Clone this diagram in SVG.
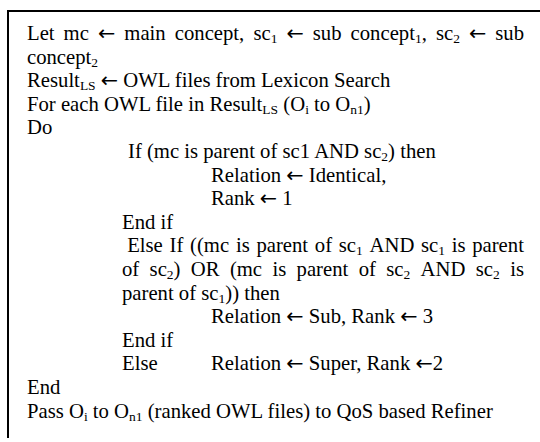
<svg xmlns="http://www.w3.org/2000/svg" width="540" height="442" viewBox="0 0 540 442">
  <style>
    text { font-family: "Liberation Serif", "Times New Roman", serif; font-size: 20.7px; fill: #000; }
    .s { font-size: 13.5px; }
    .ar { font-family: "DejaVu Sans", sans-serif; }
    .frame { fill: none; stroke: #000; stroke-width: 2; }
  </style>
  <rect width="540" height="442" fill="#fff"/>
  <!-- box edges: top and left -->
  <path class="frame" d="M8,438 V11 H540"/>

  <g id="algorithm">
    <!-- line 1 (justified) -->
    <text y="40"><tspan x="27">Let</tspan><tspan x="63.6">mc</tspan><tspan class="ar" x="98">←</tspan><tspan x="124.3">main</tspan><tspan x="174.8">concept,</tspan><tspan x="253.4">sc</tspan><tspan class="s" dy="3">1</tspan><tspan class="ar" x="286.4" dy="-3">←</tspan><tspan x="312.8">sub</tspan><tspan x="350.6">concept</tspan><tspan class="s" dy="3">1</tspan><tspan dy="-3">,</tspan><tspan x="435.9">sc</tspan><tspan class="s" dy="3">2</tspan><tspan class="ar" x="469" dy="-3">←</tspan><tspan x="495.3">sub</tspan></text>
    <text x="27" y="63.6">concept<tspan class="s" dy="3">2</tspan></text>
    <text x="27" y="87.2">Result<tspan class="s" dy="3">LS</tspan><tspan dy="-3"> </tspan><tspan class="ar">←</tspan><tspan> OWL files from Lexicon Search</tspan></text>
    <text x="27" y="110.8">For each OWL file in Result<tspan class="s" dy="3">LS</tspan><tspan dy="-3"> (O</tspan><tspan class="s" dy="3">i</tspan><tspan dy="-3"> to O</tspan><tspan class="s" dy="3">n1</tspan><tspan dy="-3">)</tspan></text>
    <text x="27" y="134.4">Do</text>
    <text x="128" y="158">If (mc is parent of sc1 AND sc<tspan class="s" dy="3">2</tspan><tspan dy="-3">) then</tspan></text>
    <text x="211" y="181.6">Relation <tspan class="ar">←</tspan> Identical,</text>
    <text x="211" y="205.2">Rank <tspan class="ar">←</tspan> 1</text>
    <text x="122" y="228.8">End if</text>
    <!-- else-if condition (justified) -->
    <text y="252.4"><tspan x="127.2">Else</tspan><tspan x="169.6">If</tspan><tspan x="190.1">((mc</tspan><tspan x="235.9">is</tspan><tspan x="256.4">parent</tspan><tspan x="314.8">of</tspan><tspan x="338.8">sc</tspan><tspan class="s" dy="3">1</tspan><tspan x="369.5" dy="-3">AND</tspan><tspan x="421">sc</tspan><tspan class="s" dy="3">1</tspan><tspan x="451.7" dy="-3">is</tspan><tspan x="472.2">parent</tspan></text>
    <text y="276"><tspan x="122">of</tspan><tspan x="149.6">sc</tspan><tspan class="s" dy="3">2</tspan><tspan dy="-3">)</tspan><tspan x="190.8">OR</tspan><tspan x="229.9">(mc</tspan><tspan x="272.5">is</tspan><tspan x="296.6">parent</tspan><tspan x="358.7">of</tspan><tspan x="386.3">sc</tspan><tspan class="s" dy="3">2</tspan><tspan x="420.6" dy="-3">AND</tspan><tspan x="475.8">sc</tspan><tspan class="s" dy="3">2</tspan><tspan x="510.2" dy="-3">is</tspan></text>
    <text x="122" y="299.6">parent of sc<tspan class="s" dy="3">1</tspan><tspan dy="-3">)) then</tspan></text>
    <text x="211" y="323.2">Relation <tspan class="ar">←</tspan> Sub, Rank <tspan class="ar">←</tspan> 3</text>
    <text x="122" y="346.8">End if</text>
    <text y="370.4"><tspan x="122">Else</tspan><tspan x="211">Relation </tspan><tspan class="ar">←</tspan><tspan> Super, Rank </tspan><tspan class="ar">←</tspan><tspan>2</tspan></text>
    <text x="27" y="394">End</text>
    <text x="27" y="417.6">Pass O<tspan class="s" dy="3">i</tspan><tspan dy="-3"> to O</tspan><tspan class="s" dy="3">n1</tspan><tspan dy="-3"> (ranked OWL files) to QoS based Refiner</tspan></text>
  </g>
</svg>
